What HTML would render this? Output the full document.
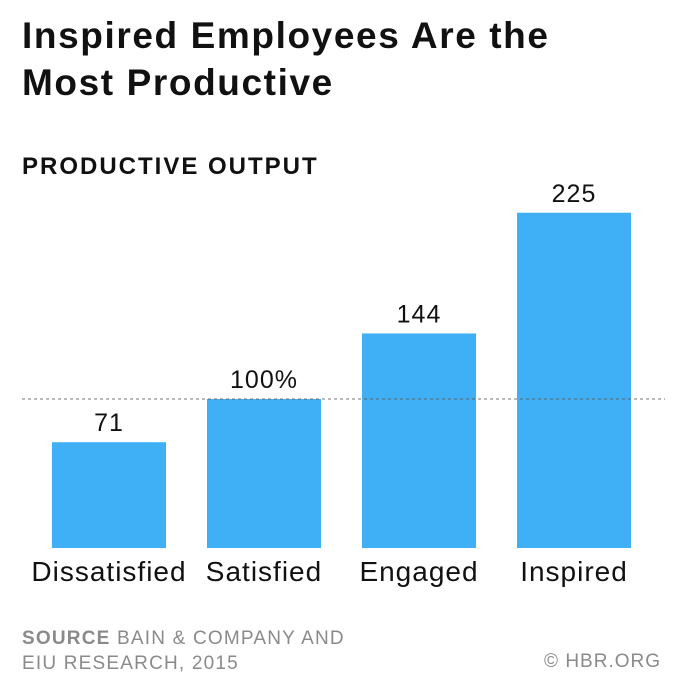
<!DOCTYPE html>
<html><head><meta charset="utf-8"><style>
body{margin:0;background:#fff;font-family:"Liberation Sans",sans-serif;}
#wrap{position:relative;width:689px;height:698px;overflow:hidden;}
.t{position:absolute;white-space:nowrap;}
</style></head><body>
<div id="wrap">
<div class="t" style="left:22px;top:12px;font-size:37px;letter-spacing:1.6px;font-weight:bold;line-height:47px;color:#111;">Inspired Employees Are the<br>Most Productive</div>
<div class="t" style="left:22px;top:153px;font-size:24px;letter-spacing:2px;font-weight:bold;color:#111;">PRODUCTIVE OUTPUT</div>
<svg id="c" width="689" height="698" style="position:absolute;left:0;top:0"></svg>
<div class="t" style="left:22px;top:626px;font-size:19px;letter-spacing:1.2px;line-height:25px;color:#8a8a8a;"><b>SOURCE</b> BAIN &amp; COMPANY AND<br>EIU RESEARCH, 2015</div>
<div class="t" style="right:28px;top:651px;font-size:19px;letter-spacing:1px;color:#8a8a8a;">© HBR.ORG</div>
</div>
<script>
const categories=["Dissatisfied","Satisfied","Engaged","Inspired"];
const values=[71,100,144,225];
const valueLabels=["71","100%","144","225"];
const ns="http://www.w3.org/2000/svg";
const svg=document.getElementById('c');
const base=548, scale=1.49, x0=52, step=155, bw=114;
const y=v=>base-v*scale;
const xs=i=>x0+i*step;
function mk(t,a){const e=document.createElementNS(ns,t);for(const k in a)e.setAttribute(k,a[k]);svg.appendChild(e);return e;}
categories.forEach((c,i)=>{
  const r=mk('rect',{x:xs(i),y:y(values[i]),width:bw,height:values[i]*scale,fill:'#3fb0f5'});
  
  
  const v=mk('text',{x:xs(i)+bw/2,y:y(values[i])-11,'text-anchor':'middle','font-size':25,'letter-spacing':1,fill:'#111','font-family':'Liberation Sans'});
  v.textContent=valueLabels[i];
  
  
  const l=mk('text',{x:xs(i)+bw/2,y:base+33,'text-anchor':'middle','font-size':28,'letter-spacing':1,fill:'#111','font-family':'Liberation Sans'});
  l.textContent=c;
  
  
});
const ln=mk('line',{x1:22,x2:665,y1:y(100),y2:y(100),stroke:'#555','stroke-width':1,'stroke-dasharray':'3,3','opacity':0.8});


</script>
</body></html>
